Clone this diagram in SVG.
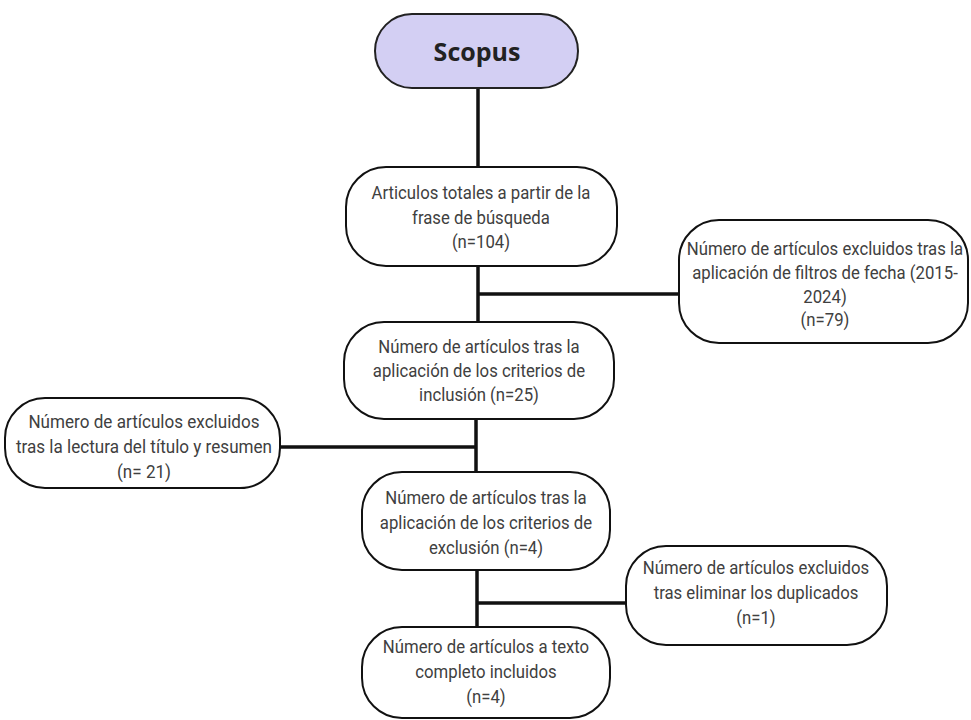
<svg xmlns="http://www.w3.org/2000/svg" width="971" height="720" viewBox="0 0 971 720">
<style>
.box{fill:#ffffff;stroke:#111;stroke-width:2}
.start{fill:#d3cff3;stroke:#222;stroke-width:2}
.t{font-family:Roboto,"Liberation Sans",sans-serif;font-size:18px;fill:#404040;text-anchor:middle}
.title{font-family:"Open Sans","Noto Sans",sans-serif;font-size:25px;font-weight:bold;fill:#222;text-anchor:middle}
.c{stroke:#111;stroke-width:3.5;fill:none}
</style>
<rect width="971" height="720" fill="#ffffff"/>
<g id="connectors">
<line class="c" x1="478" y1="88" x2="478" y2="168"/>
<line class="c" x1="478" y1="266" x2="478" y2="323"/>
<line class="c" x1="478" y1="294" x2="680" y2="294"/>
<line class="c" x1="476" y1="419" x2="476" y2="473"/>
<line class="c" x1="280" y1="447" x2="476" y2="447"/>
<line class="c" x1="477" y1="570" x2="477" y2="628"/>
<line class="c" x1="477" y1="603" x2="627" y2="603"/>
</g>
<g id="scopus">
<rect class="start" x="375" y="14" width="203" height="74" rx="37"/>
<text class="title" x="477" y="61">Scopus</text>
</g>
<g id="total">
<rect class="box" x="346" y="167" width="271" height="99" rx="40"/>
<g transform="translate(481,0) scale(0.93,1)">
<text class="t" x="0" y="199">Articulos totales a partir de la</text>
<text class="t" x="0" y="224">frase de búsqueda</text>
<text class="t" x="0" y="248">(n=104)</text>
</g>
</g>
<g id="excl-fecha">
<rect class="box" x="679" y="220" width="289" height="123" rx="40"/>
<g transform="translate(825,0) scale(0.93,1)">
<text class="t" x="0" y="255">Número de artículos excluidos tras la</text>
<text class="t" x="0" y="279">aplicación de filtros de fecha (2015-</text>
<text class="t" x="0" y="303">2024)</text>
<text class="t" x="0" y="326">(n=79)</text>
</g>
</g>
<g id="inclusion">
<rect class="box" x="344" y="322" width="270" height="97" rx="40"/>
<g transform="translate(479,0) scale(0.93,1)">
<text class="t" x="0" y="353">Número de artículos tras la</text>
<text class="t" x="0" y="377">aplicación de los criterios de</text>
<text class="t" x="0" y="401">inclusión (n=25)</text>
</g>
</g>
<g id="excl-titulo">
<rect class="box" x="5" y="398" width="275" height="90" rx="40"/>
<g transform="translate(144,0) scale(0.95,1)">
<text class="t" x="0" y="428">Número de artículos excluidos</text>
<text class="t" x="0" y="453">tras la lectura del título y resumen</text>
<text class="t" x="0" y="478">(n= 21)</text>
</g>
</g>
<g id="exclusion">
<rect class="box" x="362" y="472" width="248" height="98" rx="40"/>
<g transform="translate(486,0) scale(0.93,1)">
<text class="t" x="0" y="504">Número de artículos tras la</text>
<text class="t" x="0" y="529">aplicación de los criterios de</text>
<text class="t" x="0" y="554">exclusión (n=4)</text>
</g>
</g>
<g id="excl-dup">
<rect class="box" x="626" y="546" width="261" height="99" rx="40"/>
<g transform="translate(756,0) scale(0.93,1)">
<text class="t" x="0" y="574">Número de artículos excluidos</text>
<text class="t" x="0" y="599">tras eliminar los duplicados</text>
<text class="t" x="0" y="624">(n=1)</text>
</g>
</g>
<g id="final">
<rect class="box" x="362" y="627" width="248" height="91" rx="40"/>
<g transform="translate(486,0) scale(0.93,1)">
<text class="t" x="0" y="653">Número de artículos a texto</text>
<text class="t" x="0" y="678">completo incluidos</text>
<text class="t" x="0" y="703">(n=4)</text>
</g>
</g>
</svg>
